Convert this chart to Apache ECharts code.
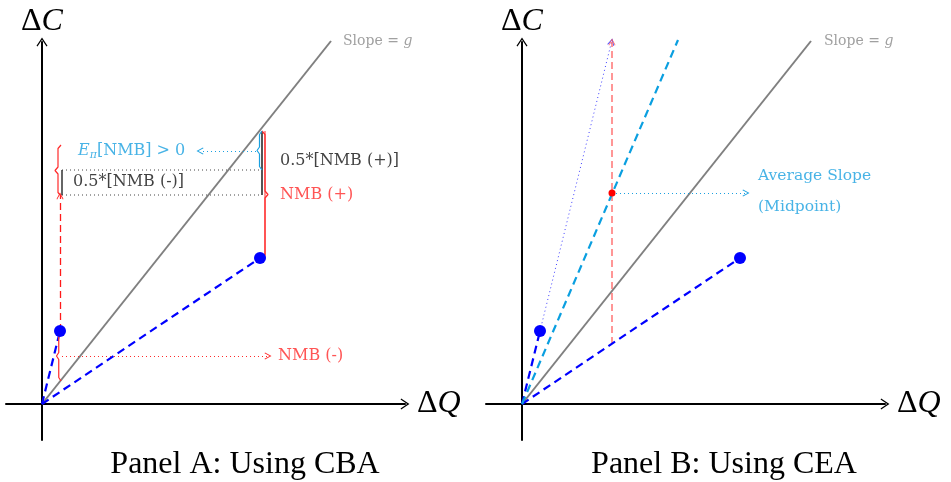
<!DOCTYPE html>
<html><head><meta charset="utf-8">
<script src="https://cdn.jsdelivr.net/npm/echarts@6/dist/echarts.min.js"></script>
<style>html,body{margin:0;padding:0;background:#fff}#c{width:951px;height:482px}</style>
</head><body><div id="c"></div>
<script>
// ---------- data (conceptual units, origin at 0,0) ----------
const origin = [0, 0];
// Panel A: Using CBA
const panelA_points = [[1.8, 7.3], [21.8, 14.6]];
const panelA_slopeEnd = [28.9, 36.3];
const panelA_redArrow = [[1.8, 7.3], [1.8, 20.8]];
const panelA_nmbPlusLine = [[22.3, 14.6], [22.3, 27.3]];
const panelA_halfPlusBar = [[22.0, 20.9], [22.0, 27.3]];
const panelA_halfMinusBar = [[2.0, 20.9], [2.0, 23.4]];
const panelA_dotLevels = [23.4, 20.9];
const panelA_dotRange = [2.0, 22.0];
const panelA_cyanArrow = [[21.4, 25.3], [15.8, 25.3]];
const panelA_redDotArrow = [[2.0, 4.8], [22.6, 4.8]];
// braces: x of ends, yStart, yEnd, direction, amplitude
const panelA_braces = [
  {x: 1.9, y0: 25.9, y1: 20.8, dir: -1, amp: 0.6, color: '#ff2a2a'},
  {x: 22.0, y0: 27.3, y1: 14.6, dir: 1, amp: 0.6, color: '#ff2a2a'},
  {x: 22.0, y0: 27.3, y1: 23.4, dir: -1, amp: 0.5, color: '#1aa0e0'},
  {x: 1.9, y0: 7.3, y1: 2.3, dir: -1, amp: 0.45, color: '#ff2a2a'}
];
// Panel B: Using CEA
const panelB_points = [[1.8, 7.3], [21.8, 14.6]];
const panelB_slopeEnd = [28.9, 36.3];
const panelB_cyanEnd = [15.6, 36.4];
const panelB_blueDotted = [[1.8, 7.3], [8.95, 36.2]];
const panelB_redDashed = [[9.0, 6.0], [9.0, 36.2]];
const panelB_midpoint = [9.0, 21.1];
const panelB_midArrowEnd = [22.4, 21.1];

// labels: x, y, text, colour, size
const panelA_labels = [
  [30.1, 36.3, '{r|Slope = }{i|g}', '#888', 14],
  [3.6, 25.3, '{i|E}{s|π}{r|[NMB] > 0}', '#1aa0e0', 16],
  [3.1, 22.2, '{r|0.5*[NMB (-)]}', '#111', 16],
  [23.8, 24.3, '{r|0.5*[NMB (+)]}', '#111', 16],
  [23.8, 20.9, '{r|NMB (+)}', '#ff2a2a', 16],
  [23.6, 4.8, '{r|NMB (-)}', '#ff2a2a', 16]
];
const panelB_labels = [
  [30.2, 36.3, '{r|Slope = }{i|g}', '#888', 14],
  [23.6, 22.8, '{r|Average Slope}', '#1aa0e0', 15.5],
  [23.6, 19.7, '{r|(Midpoint)}', '#1aa0e0', 15.5]
];
const titles = ['Panel A: Using CBA', 'Panel B: Using CEA'];

// ---------- drawing helpers ----------
const ARROW = 'path://M10,0 L20,15 L18.2,16.2 L10,4.2 L1.8,16.2 L0,15 Z';
const SERIF = '"DejaVu Serif", serif';
function seg(ax, pts, color, width, type, z) {
  return {type: 'line', xAxisIndex: ax, yAxisIndex: ax, data: pts, showSymbol: false, symbol: 'none',
    lineStyle: {color, width, type: type || 'solid'}, clip: false, silent: true, z: z || 2, animation: false};
}
function arrow(ax, from, to, color, width, type, opacity, z) {
  return {type: 'lines', coordinateSystem: 'cartesian2d', xAxisIndex: ax, yAxisIndex: ax,
    data: [{coords: [from, to]}], symbol: ['none', ARROW], symbolSize: [9, 7],
    lineStyle: {color, width, type: type || 'solid', opacity: opacity == null ? 1 : opacity, curveness: 0},
    clip: false, silent: true, z: z || 3, animation: false};
}
function brace(ax, b) {
  const s = Math.sign(b.y1 - b.y0), h = 0.35, ym = (b.y0 + b.y1) / 2;
  const xs = b.x + b.dir * b.amp * 0.5, xt = b.x + b.dir * b.amp;
  const pts = [[b.x, b.y0], [xs, b.y0 + s * h], [xs, ym - s * h], [xt, ym], [xs, ym + s * h], [xs, b.y1 - s * h], [b.x, b.y1]];
  return seg(ax, pts, b.color, 1.2, 'solid', 4);
}
function dots(ax, pts, color, size) {
  return {type: 'scatter', xAxisIndex: ax, yAxisIndex: ax, data: pts, symbolSize: size,
    itemStyle: {color, opacity: 1}, clip: false, silent: true, z: 6, animation: false};
}
function labels(ax, list) {
  return list.map(l => ({type: 'scatter', xAxisIndex: ax, yAxisIndex: ax, data: [[l[0], l[1]]], symbolSize: 0,
    clip: false, silent: true, z: 7, animation: false,
    label: {show: true, position: 'right', distance: 0, formatter: l[2],
      rich: {
        r: {fontFamily: SERIF, fontSize: l[4], color: l[3]},
        i: {fontFamily: SERIF, fontSize: l[4], color: l[3], fontStyle: 'italic'},
        s: {fontFamily: SERIF, fontSize: l[4] - 5, color: l[3], fontStyle: 'italic', padding: [9, 0, 0, 0]}
      }}}));
}
function axisPair(ax, left) {
  const nameRich = {
    d: {fontFamily: '"Liberation Serif", serif', fontSize: 32, color: '#000'},
    i: {fontFamily: '"Liberation Serif", serif', fontSize: 32, color: '#000', fontStyle: 'italic'}
  };
  const common = {type: 'value', splitLine: {show: false}, axisTick: {show: false}, axisLabel: {show: false},
    axisLine: {show: true, onZero: true, symbol: ['none', ARROW], symbolSize: [11, 9],
      lineStyle: {color: '#000', width: 2}}};
  return {
    grid: {left: left, top: 42, width: 399, height: 398, containLabel: false},
    x: Object.assign({}, common, {gridIndex: ax, min: -3.6, max: 36.3, name: '{d|Δ}{i|Q}', nameLocation: 'end', nameGap: 12,
      nameTextStyle: {rich: nameRich, verticalAlign: 'middle'}}),
    y: Object.assign({}, common, {gridIndex: ax, min: -3.6, max: 36.2, name: '{d|Δ}{i|C}', nameLocation: 'end', nameGap: 4,
      nameTextStyle: {rich: nameRich, align: 'center'}})
  };
}

const A = axisPair(0, 6), B = axisPair(1, 486);
const series = [];
// Panel A
series.push(seg(0, [origin, panelA_slopeEnd], '#808080', 2, 'solid', 2));
panelA_points.forEach(p => series.push(seg(0, [origin, p], '#0000ff', 2.2, [8, 5], 3)));
series.push(arrow(0, panelA_redArrow[0], panelA_redArrow[1], '#ff1a1a', 1.3, [7, 4]));
series.push(seg(0, panelA_nmbPlusLine, '#ff5050', 1.2, 'solid', 3));
series.push(seg(0, panelA_halfPlusBar, '#555', 2, 'solid', 3));
series.push(seg(0, panelA_halfMinusBar, '#333', 1.5, 'solid', 3));
panelA_dotLevels.forEach(y => series.push(seg(0, [[panelA_dotRange[0], y], [panelA_dotRange[1], y]], '#444', 1, [1, 3], 2)));
series.push(arrow(0, panelA_cyanArrow[0], panelA_cyanArrow[1], '#1aa0e0', 1, [1, 3]));
series.push(arrow(0, panelA_redDotArrow[0], panelA_redDotArrow[1], '#ff2a2a', 1, [1, 3]));
panelA_braces.forEach(b => series.push(brace(0, b)));
series.push(dots(0, panelA_points, '#0000ff', 12));
series.push(...labels(0, panelA_labels));
// Panel B
series.push(seg(1, [origin, panelB_slopeEnd], '#808080', 2, 'solid', 2));
panelB_points.forEach(p => series.push(seg(1, [origin, p], '#0000ff', 2.2, [8, 5], 3)));
series.push(seg(1, [origin, panelB_cyanEnd], '#0a9fe0', 2.2, [8, 5], 3));
series.push(arrow(1, panelB_blueDotted[0], panelB_blueDotted[1], '#4040ff', 1, [1, 3]));
series.push(arrow(1, panelB_redDashed[0], panelB_redDashed[1], '#ff5a5a', 1.5, [7, 4], 0.85));
series.push(arrow(1, panelB_midpoint, panelB_midArrowEnd, '#1aa0e0', 1, [1, 3]));
series.push(dots(1, panelB_points, '#0000ff', 12));
series.push(dots(1, [panelB_midpoint], '#ff0000', 7));
series.push(...labels(1, panelB_labels));

const chart = echarts.init(document.getElementById('c'), null, {renderer: 'canvas'});
chart.setOption({
  backgroundColor: '#fff',
  animation: false,
  title: [
    {text: titles[0], left: 240, top: 444, textAlign: 'center', textStyle: {fontFamily: '"Liberation Serif", serif', fontSize: 32, fontWeight: 'normal', color: '#000'}},
    {text: titles[1], left: 719, top: 444, textAlign: 'center', textStyle: {fontFamily: '"Liberation Serif", serif', fontSize: 32, fontWeight: 'normal', color: '#000'}}
  ],
  grid: [A.grid, B.grid],
  xAxis: [A.x, B.x],
  yAxis: [A.y, B.y],
  series
});
</script></body></html>
